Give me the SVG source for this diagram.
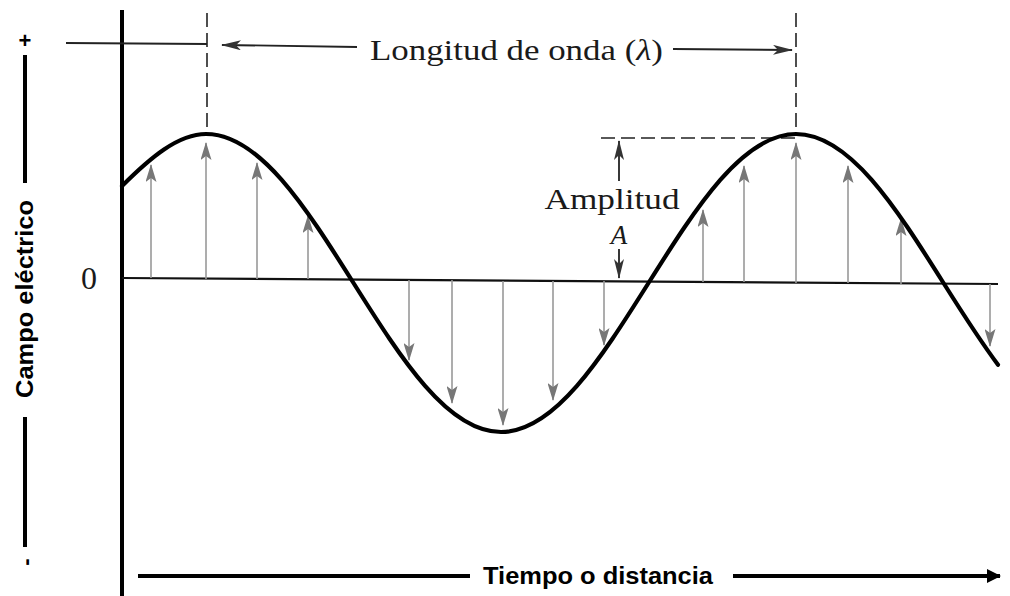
<svg xmlns="http://www.w3.org/2000/svg" width="1010" height="596" viewBox="0 0 1010 596">
<style>
.serif{font-family:"Liberation Serif","Times New Roman",serif;fill:#1a1a1a}
.sans{font-family:"Liberation Sans",Arial,sans-serif;font-weight:bold;fill:#000}
.ax{stroke:#000;stroke-width:4;fill:none}
.thin{stroke:#222;stroke-width:1.8;fill:none}
.dash{stroke:#222;stroke-width:1.6;stroke-dasharray:14 6;fill:none}
.ga{stroke:#999;stroke-width:1.6;fill:none;marker-end:url(#gh)}
</style>
<defs>
<marker id="gh" markerUnits="userSpaceOnUse" markerWidth="18" markerHeight="11" refX="17" refY="5.5" orient="auto">
<path d="M0,0 L18,5.5 L0,11 L4,5.5 z" fill="#777"/>
</marker>
<marker id="dh" markerUnits="userSpaceOnUse" markerWidth="20" markerHeight="10" refX="19" refY="5" orient="auto">
<path d="M0,0 L20,5 L0,10 L5,5 z" fill="#333"/>
</marker>
<marker id="bh" markerUnits="userSpaceOnUse" markerWidth="14" markerHeight="14" refX="13" refY="7" orient="auto">
<path d="M0,0 L14,7 L0,14 z" fill="#000"/>
</marker>
</defs>

<g id="axes">
<line class="ax" x1="122" y1="10" x2="122" y2="596"/>
<line x1="122" y1="278" x2="998" y2="284" stroke="#111" stroke-width="2.2"/>
</g>

<g id="y-label">
<text class="sans" x="25" y="48" font-size="22" text-anchor="middle">+</text>
<line class="ax" x1="25" y1="55" x2="25" y2="183"/>
<text class="sans" font-size="24" text-anchor="middle" textLength="198" lengthAdjust="spacingAndGlyphs" transform="translate(33,299) rotate(-90)">Campo eléctrico</text>
<line class="ax" x1="25" y1="417" x2="25" y2="547"/>
<text class="sans" font-size="22" text-anchor="middle" transform="translate(33,562) rotate(-90)">-</text>
<text class="serif" x="89" y="289" font-size="32" text-anchor="middle">0</text>
</g>

<g id="x-label">
<line class="ax" x1="138" y1="576" x2="470" y2="576"/>
<text class="sans" x="598" y="584" font-size="23" text-anchor="middle" textLength="230" lengthAdjust="spacingAndGlyphs">Tiempo o distancia</text>
<line class="ax" x1="733" y1="576" x2="1000" y2="576" marker-end="url(#bh)"/>
</g>

<g id="wavelength">
<line class="dash" x1="207" y1="13" x2="207" y2="134"/>
<line class="dash" x1="796" y1="13" x2="796" y2="136"/>
<line class="thin" x1="66" y1="43" x2="207" y2="44"/>
<line class="thin" x1="357" y1="47" x2="222" y2="45" marker-end="url(#dh)"/>
<text class="serif" x="370" y="60" font-size="30" textLength="293" lengthAdjust="spacingAndGlyphs">Longitud de onda (<tspan font-style="italic">λ</tspan>)</text>
<line class="thin" x1="673" y1="49" x2="792" y2="50" marker-end="url(#dh)"/>
</g>

<g id="amplitude">
<line class="dash" x1="601" y1="138" x2="796" y2="138"/>
<line class="thin" x1="619" y1="181" x2="619" y2="141" marker-end="url(#dh)"/>
<text class="serif" x="612" y="209" font-size="30" text-anchor="middle" textLength="135" lengthAdjust="spacingAndGlyphs">Amplitud</text>
<text class="serif" x="619" y="244" font-size="27" font-style="italic" text-anchor="middle">A</text>
<line class="thin" x1="619" y1="249" x2="619" y2="278" marker-end="url(#dh)"/>
</g>

<g id="field-arrows">
<line class="ga" x1="151" y1="278" x2="151" y2="165"/>
<line class="ga" x1="206" y1="279" x2="206" y2="143"/>
<line class="ga" x1="257" y1="279" x2="257" y2="163"/>
<line class="ga" x1="308" y1="279" x2="308" y2="216"/>
<line class="ga" x1="409" y1="280" x2="409" y2="360"/>
<line class="ga" x1="452" y1="280" x2="452" y2="403"/>
<line class="ga" x1="503" y1="281" x2="503" y2="425"/>
<line class="ga" x1="553" y1="281" x2="553" y2="400"/>
<line class="ga" x1="604" y1="281" x2="604" y2="345"/>
<line class="ga" x1="703" y1="282" x2="703" y2="210"/>
<line class="ga" x1="744" y1="282" x2="744" y2="166"/>
<line class="ga" x1="796" y1="283" x2="796" y2="143"/>
<line class="ga" x1="848" y1="283" x2="848" y2="166"/>
<line class="ga" x1="901" y1="284" x2="901" y2="219"/>
<line class="ga" x1="990" y1="284" x2="990" y2="346"/>
</g>

<g id="wave">
<path d="M122,186 C150,158 178,134 206,134 C259.3,134 305.4,206.7 353.5,283 C401.6,359.3 447.7,432 501,432 C554.3,432 600.4,359.3 648.5,283 C696.6,206.7 742.7,134 796,134 C849.3,134 895.4,206.7 943.5,283 C961.7,311.9 979.8,340.5 998,364.7" fill="none" stroke="#000" stroke-width="4.2" stroke-linecap="round"/>
</g>
</svg>
